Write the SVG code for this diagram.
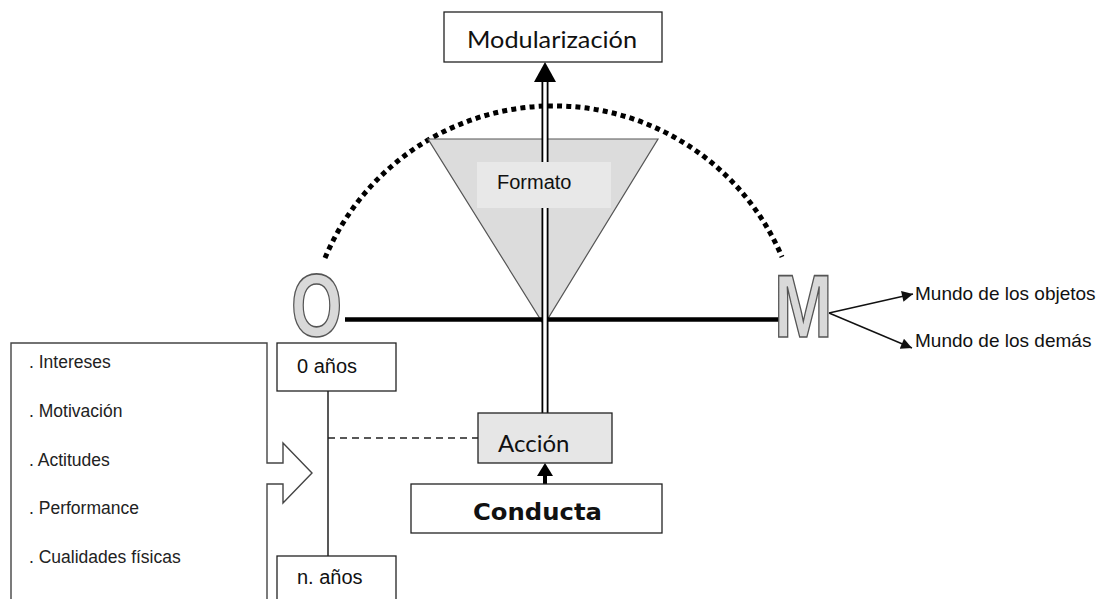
<svg xmlns="http://www.w3.org/2000/svg" width="1112" height="599" viewBox="0 0 1112 599">
<defs>
<style>
.box{fill:#fff;stroke:#222;stroke-width:1.3}
.arial{font-family:"Liberation Sans",Arial,sans-serif;fill:#111}
.cal{font-family:Lato,"Liberation Sans",sans-serif;fill:#111}
.thin{stroke:#111;stroke-width:1.4;fill:none}
.big{font-family:"Liberation Sans",Arial,sans-serif;font-weight:bold;fill:#d9d9d9;stroke:#555;stroke-width:1.6}
.item{font-family:"Liberation Sans",Arial,sans-serif;font-size:17.5px;fill:#222}
</style>
<marker id="ah" viewBox="0 0 10 10" refX="10" refY="5" markerWidth="17" markerHeight="11" markerUnits="userSpaceOnUse" orient="auto">
<path d="M0,0 L10,5 L0,10 Z" fill="#111"/>
</marker>
</defs>
<rect width="1112" height="599" fill="#fff"/>

<g id="arc">
<path d="M325,258 A248 248 0 0 1 782,257" fill="none" stroke="#000" stroke-width="5" stroke-dasharray="5 4.2"/>
</g>

<g id="formato-triangle">
<polygon points="428,139 658,139 544,325" fill="#dcdcdc" stroke="#555" stroke-width="1.2"/>
</g>

<g id="connectors">
<line x1="345" y1="319.5" x2="779" y2="319.5" stroke="#000" stroke-width="4.5"/>
<line x1="545" y1="80" x2="545" y2="413" stroke="#000" stroke-width="7"/>
<line x1="545" y1="80" x2="545" y2="413" stroke="#fff" stroke-width="3.4"/>
<polygon points="545,62 556,82 534,82" fill="#000"/>
<line x1="545" y1="484" x2="545" y2="474" stroke="#000" stroke-width="4"/>
<polygon points="545,463 553,476 537,476" fill="#000"/>
<line x1="829" y1="313" x2="913" y2="294" class="thin" stroke-width="1.6" marker-end="url(#ah)"/>
<line x1="829" y1="313" x2="912" y2="348" class="thin" stroke-width="1.6" marker-end="url(#ah)"/>
<line x1="328" y1="391" x2="328" y2="556" class="thin"/>
<line x1="328" y1="438" x2="478" y2="438" stroke="#222" stroke-width="1.4" stroke-dasharray="7 5"/>
</g>

<g id="formato">
<rect x="477" y="162" width="134" height="46" fill="#e8e8e8"/>
<text x="497" y="189" class="arial" font-size="20" fill="#222">Formato</text>
</g>

<g id="modularizacion">
<rect x="444" y="12" width="218" height="50" class="box"/>
<text x="467" y="48" class="cal" font-size="23.5" textLength="170" lengthAdjust="spacingAndGlyphs">Modularización</text>
</g>

<g id="O">
<text transform="translate(291,336) scale(0.74,1)" class="big" font-size="89">O</text>
</g>

<g id="M">
<text transform="translate(774,337) scale(0.79,1)" class="big" font-size="89">M</text>
</g>

<g id="mundo">
<text x="915" y="300" class="arial" font-size="19">Mundo de los objetos</text>
<text x="915" y="347" class="arial" font-size="19">Mundo de los demás</text>
</g>

<g id="accion">
<rect x="478" y="413" width="134" height="50" fill="#e6e6e6" stroke="#222" stroke-width="1.3"/>
<text x="498" y="452" class="cal" font-size="24">Acción</text>
</g>

<g id="conducta">
<rect x="411" y="484" width="251" height="49" class="box"/>
<text x="473" y="520" font-family="'DejaVu Sans',Verdana,sans-serif" font-size="22.5" font-weight="bold" fill="#111" textLength="129" lengthAdjust="spacingAndGlyphs">Conducta</text>
</g>

<g id="lista">
<path d="M11,610 V343 H267 V463 H283 V443 L312,473 L283,503 V484 H267 V610" fill="#fff" stroke="#444" stroke-width="1.4"/>
<text x="29" y="368" class="item">. Intereses</text>
<text x="29" y="417" class="item">. Motivación</text>
<text x="29" y="466" class="item">. Actitudes</text>
<text x="29" y="514" class="item">. Performance</text>
<text x="29" y="563" class="item">. Cualidades físicas</text>
</g>

<g id="anios0">
<rect x="277" y="343" width="119" height="48" class="box"/>
<text x="297" y="373" class="arial" font-size="20">0 años</text>
</g>

<g id="aniosN">
<rect x="277" y="556" width="119" height="60" class="box"/>
<text x="297" y="584" class="arial" font-size="20">n. años</text>
</g>
</svg>
